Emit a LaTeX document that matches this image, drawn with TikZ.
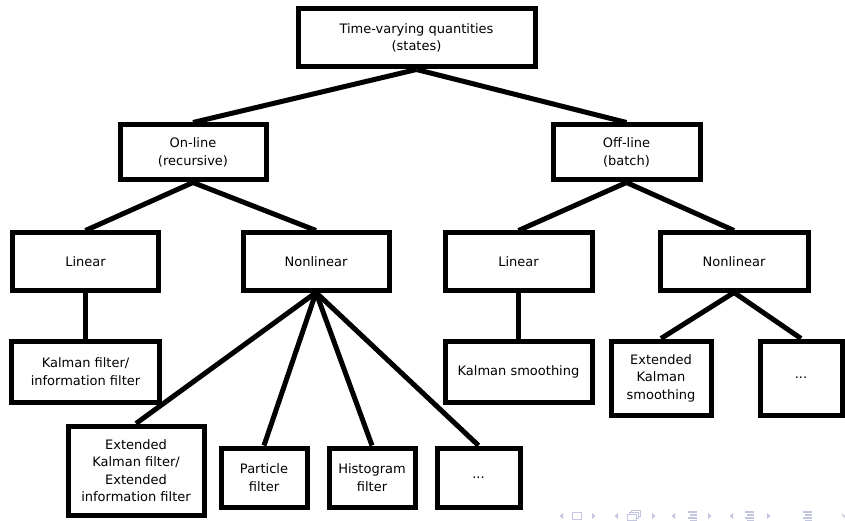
\documentclass[tikz,border=0pt]{standalone}
\usepackage{fontspec}
\setmainfont{DejaVu Sans}
\definecolor{navc}{RGB}{196,198,224}
\begin{document}
\begin{tikzpicture}[x=1pt,y=-1pt,
  box/.style={draw=black, line width=5pt, fill=white, inner sep=0pt, align=center,
    font=\fontsize{13}{17.5}\selectfont},
  link/.style={line width=5pt},
  nav/.style={fill=navc, draw=none}]
\useasboundingbox (0,0) rectangle (845,521);
\fill[white] (0,0) rectangle (845,521);

% nodes
\node[box, minimum width=237pt, minimum height=58pt] (top) at (416.5,38) {Time-varying quantities\\(states)};
\node[box, minimum width=146pt, minimum height=55pt] (on) at (193,152.5) {On-line\\(recursive)};
\node[box, minimum width=147pt, minimum height=55pt] (off) at (626.5,152.5) {Off-line\\(batch)};
\node[box, minimum width=146pt, minimum height=57pt] (lin1) at (85.5,261.5) {Linear};
\node[box, minimum width=146pt, minimum height=57pt] (nl1) at (316,261.5) {Nonlinear};
\node[box, minimum width=147pt, minimum height=57pt] (lin2) at (518.5,261.5) {Linear};
\node[box, minimum width=148pt, minimum height=57pt] (nl2) at (734,261.5) {Nonlinear};
\node[box, minimum width=148pt, minimum height=61pt] (kf) at (85.5,371.5) {Kalman filter/\\information filter};
\node[box, minimum width=147pt, minimum height=61pt] (ks) at (518.5,371.5) {Kalman smoothing};
\node[box, minimum width=100pt, minimum height=74pt] (eks) at (661,378) {Extended\\Kalman\\smoothing};
\node[box, minimum width=82pt, minimum height=74pt] (dots2) at (801,378) {...};
\node[box, minimum width=136pt, minimum height=89pt] (ekf) at (136,470.5) {Extended\\Kalman filter/\\Extended\\information filter};
\node[box, minimum width=86pt, minimum height=59pt] (pf) at (264,477.5) {Particle\\filter};
\node[box, minimum width=86pt, minimum height=59pt] (hf) at (372,477.5) {Histogram\\filter};
\node[box, minimum width=83pt, minimum height=59pt] (dots1) at (478.5,477.5) {...};

% connectors
\draw[link] (top.south) -- (on.north);
\draw[link] (top.south) -- (off.north);
\draw[link] (on.south) -- (lin1.north);
\draw[link] (on.south) -- (nl1.north);
\draw[link] (off.south) -- (lin2.north);
\draw[link] (off.south) -- (nl2.north);
\draw[link] (lin1.south) -- (kf.north);
\draw[link] (lin2.south) -- (ks.north);
\draw[link] (nl1.south) -- (ekf.north);
\draw[link] (nl1.south) -- (pf.north);
\draw[link] (nl1.south) -- (hf.north);
\draw[link] (nl1.south) -- (dots1.north);
\draw[link] (nl2.south) -- (eks.north);
\draw[link] (nl2.south) -- (dots2.north);

% navigation symbols
\fill[nav] (563,513) -- (563,519) -- (559.5,516) -- cycle;
\draw[navc, line width=1.2pt] (572.5,512.5) rectangle (581.5,519.5);
\fill[nav] (592,513) -- (592,519) -- (595.5,516) -- cycle;
\fill[nav] (618,513) -- (618,519) -- (614.5,516) -- cycle;
\draw[navc, line width=1pt, fill=white] (631,510.5) rectangle (640,516.5);
\draw[navc, line width=1pt, fill=white] (629,512.5) rectangle (638,518.5);
\draw[navc, line width=1pt, fill=white] (627,514.5) rectangle (636,520.5);
\fill[nav] (652,513) -- (652,519) -- (655.5,516) -- cycle;
\fill[nav] (675,513) -- (675,519) -- (671.5,516) -- cycle;
\foreach \xx in {688,745,803} {
  \fill[nav] (\xx,511) rectangle (\xx+9,512.5);
  \fill[nav] (\xx+2,514) rectangle (\xx+9,515.5);
  \fill[nav] (\xx,517) rectangle (\xx+9,518.5);
  \fill[nav] (\xx+2,520) rectangle (\xx+9,521);
}
\fill[nav] (708,513) -- (708,519) -- (711.5,516) -- cycle;
\fill[nav] (733,513) -- (733,519) -- (729.5,516) -- cycle;
\fill[nav] (767,513) -- (767,519) -- (770.5,516) -- cycle;
\draw[navc, line width=1pt] (842,514) -- (844,517) -- (845,515);
\end{tikzpicture}
\end{document}
